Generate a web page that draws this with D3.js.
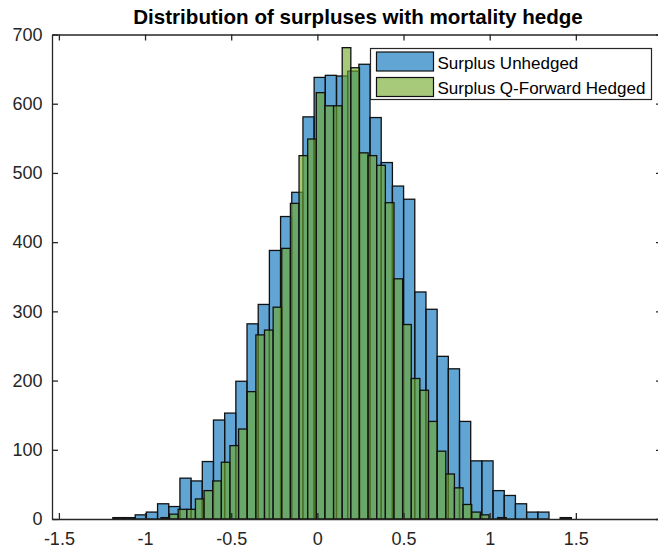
<!DOCTYPE html>
<html>
<head>
<meta charset="utf-8">
<script src="https://cdn.jsdelivr.net/npm/d3@7"></script>
<style>
  html, body { margin: 0; padding: 0; background: #fff; }
  svg { display: block; font-family: "Liberation Sans", Arial, Helvetica, sans-serif; }
</style>
</head>
<body>
<svg id="chart" width="658" height="552"></svg>
<script>
// Histogram counts per bin (10 000 simulated surpluses each)
const unhedgedStart = -1.187;   // left edge of first bin
const unhedgedWidth = 0.0649;   // bin width
const unhedgedCounts = [
  2, 2, 6, 10, 22, 18, 59, 55, 83, 143, 153,
  199, 282, 310, 388, 437, 472, 581, 638, 641, 640,
  647, 657, 580, 515, 481, 462, 328, 303, 235, 217,
  141, 84, 84, 41, 34, 22, 10, 10, 0, 2
];

const hedgedStart = -0.908;
const hedgedWidth = 0.0501;
const hedgedCounts = [
  2, 7, 14, 14, 29, 41, 55, 82, 106, 130,
  184, 266, 273, 306, 391, 456, 525, 549, 616, 597,
  597, 681, 652, 529, 525, 511, 457, 347, 281, 203,
  186, 141, 98, 65, 45, 21, 10, 6, 0, 2
];

const seriesNames = ["Surplus Unhedged", "Surplus Q-Forward Hedged"];
const titleText = "Distribution of surpluses with mortality hedge";
const xTicks = [-1.5, -1, -0.5, 0, 0.5, 1, 1.5, 2];
const yTicks = [0, 100, 200, 300, 400, 500, 600, 700];

// MATLAB-like face colours drawn with 0.6 opacity
const unhedgedColor = "rgb(0,110,186)";
const hedgedColor = "rgb(112,168,40)";
const faceAlpha = 0.62;
const axisColor = "#262626";

const svg = d3.select("#chart");
const plot = { left: 52, right: 662, top: 34.5, bottom: 519 };

const x = d3.scaleLinear().domain([-1.54, 2]).range([plot.left, plot.right]);
const y = d3.scaleLinear().domain([0, 700]).range([plot.bottom, plot.top]);

svg.append("rect").attr("width", 658).attr("height", 552).attr("fill", "#fff");

svg.append("clipPath").attr("id", "plotclip")
  .append("rect")
  .attr("x", plot.left).attr("y", plot.top)
  .attr("width", plot.right - plot.left).attr("height", plot.bottom - plot.top);

function toBins(start, width, counts) {
  return counts.map((c, i) => ({ x0: start + i * width, x1: start + (i + 1) * width, n: c }))
    .filter(d => d.n > 0);
}

const bars = svg.append("g").attr("clip-path", "url(#plotclip)");

function drawHist(bins, color) {
  bars.append("g").selectAll("rect")
    .data(bins)
    .join("rect")
    .attr("x", d => x(d.x0))
    .attr("y", d => y(d.n))
    .attr("width", d => x(d.x1) - x(d.x0))
    .attr("height", d => y(0) - y(d.n))
    .attr("fill", color)
    .attr("fill-opacity", faceAlpha)
    .attr("stroke", "#111")
    .attr("stroke-width", 1.3);
}

drawHist(toBins(unhedgedStart, unhedgedWidth, unhedgedCounts), unhedgedColor);
drawHist(toBins(hedgedStart, hedgedWidth, hedgedCounts), hedgedColor);

// Axes with inward ticks on all four sides of the box
const fmt = d => String(d);
const tickFont = 18;

const xAxisBottom = d3.axisBottom(x).tickValues(xTicks).tickFormat(fmt).tickSizeInner(-6).tickSizeOuter(0).tickPadding(13.5);
const xAxisTop = d3.axisTop(x).tickValues(xTicks).tickFormat("").tickSizeInner(-6).tickSizeOuter(0);
const yAxisLeft = d3.axisLeft(y).tickValues(yTicks).tickFormat(fmt).tickSizeInner(-6).tickSizeOuter(0).tickPadding(9.5);

function styleAxis(g) {
  g.select(".domain").attr("stroke", axisColor).attr("stroke-width", 1.3);
  g.selectAll(".tick line").attr("stroke", axisColor).attr("stroke-width", 1.3);
  g.selectAll(".tick text").attr("fill", axisColor).style("font-size", tickFont + "px")
    .style("font-family", '"Liberation Sans", Arial, sans-serif');
}

svg.append("g").attr("transform", `translate(0,${plot.bottom})`).call(xAxisBottom).call(styleAxis);
svg.append("g").attr("transform", `translate(0,${plot.top})`).call(xAxisTop).call(styleAxis);
svg.append("g").attr("transform", `translate(${plot.left},0)`).call(yAxisLeft).call(styleAxis);
svg.append("g").attr("transform", `translate(${plot.right},0)`)
  .call(d3.axisRight(y).tickValues(yTicks).tickFormat("").tickSizeInner(-6).tickSizeOuter(0))
  .call(styleAxis);

// Title
svg.append("text")
  .attr("x", (plot.left + plot.right) / 2 + 1)
  .attr("y", 23.5)
  .attr("text-anchor", "middle")
  .attr("font-weight", "bold")
  .attr("font-size", 20.6)
  .attr("fill", "#000")
  .text(titleText);

// Legend
const legend = svg.append("g");
legend.append("rect")
  .attr("x", 370.5).attr("y", 48.5).attr("width", 281).attr("height", 51)
  .attr("fill", "#fff").attr("stroke", axisColor).attr("stroke-width", 1.2);

const legendColors = [unhedgedColor, hedgedColor];
seriesNames.forEach((name, i) => {
  const top = 52 + i * 25.5;
  legend.append("rect")
    .attr("x", 376.5).attr("y", top).attr("width", 57).attr("height", 19)
    .attr("fill", legendColors[i]).attr("fill-opacity", faceAlpha)
    .attr("stroke", "#111").attr("stroke-width", 1.2);
  legend.append("text")
    .attr("x", 437.5).attr("y", top + 16.5)
    .attr("font-size", 17)
    .attr("fill", "#000")
    .text(name);
});
</script>
</body>
</html>
